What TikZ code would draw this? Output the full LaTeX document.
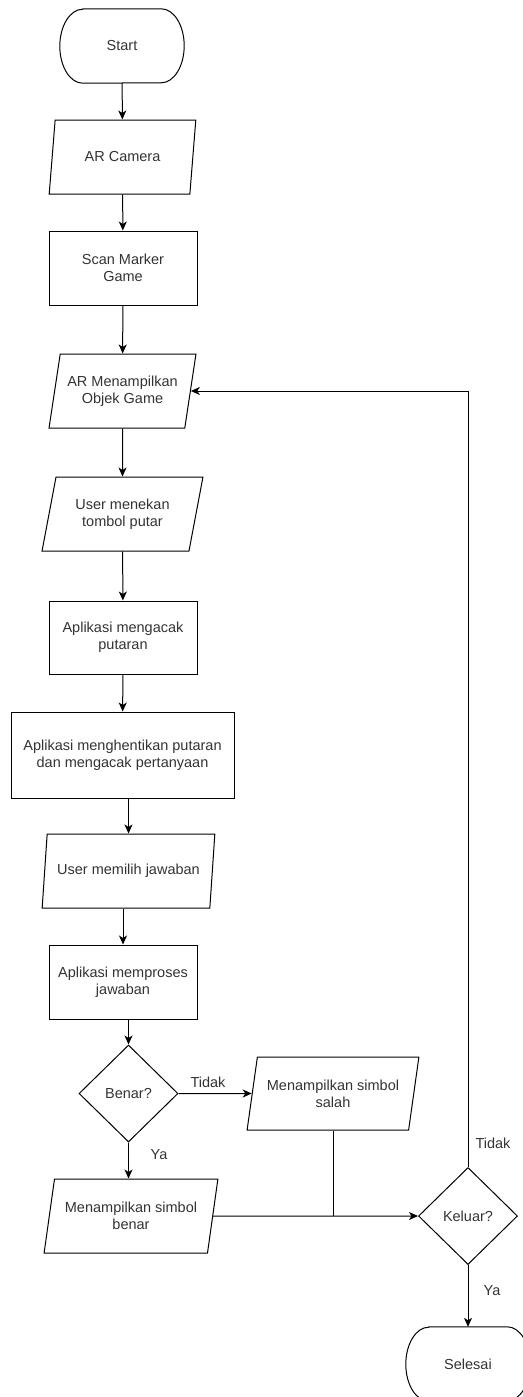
\documentclass[tikz,border=0pt]{standalone}
\usepackage{fontspec}
\setmainfont{Liberation Sans}
\usetikzlibrary{shapes,arrows.meta}
\tikzstyle{txt}=[font=\fontsize{14.5}{17}\selectfont,text=black!80,align=center,inner sep=0pt]
\tikzstyle{proc}=[txt,rectangle,draw=black,line width=1pt,minimum width=148pt,minimum height=74pt]
\tikzstyle{io}=[txt,trapezium,trapezium left angle=72,trapezium right angle=108,trapezium stretches=true,draw=black,line width=1pt,minimum height=74pt]
\tikzstyle{dec}=[txt,diamond,draw=black,line width=1pt,minimum width=99pt,minimum height=97pt]
\tikzstyle{term}=[txt,rectangle,minimum width=124pt,minimum height=74pt]
\tikzstyle{arr}=[line width=1pt,-{Stealth[length=9pt,width=8pt,inset=2.5pt]}]
\tikzstyle{ln}=[line width=1pt]

\begin{document}
\begin{tikzpicture}[x=1pt,y=-1pt]
\useasboundingbox (0,0) rectangle (522,1397);
\node[term] (start) at (122,46) {Start};
\node[io,minimum width=147pt] (camera) at (122.5,157) {AR Camera};
\node[proc] (scan) at (123,268) {Scan Marker\\Game};
\node[io,minimum width=147pt] (objek) at (122.5,391) {AR Menampilkan\\Objek Game};
\node[io,minimum width=161pt] (tekan) at (122.5,514) {User menekan\\tombol putar};
\node[proc,minimum height=73pt] (acak) at (123,637.5) {Aplikasi mengacak\\putaran};
\node[proc,minimum width=223pt,minimum height=86pt] (henti) at (122.5,755) {Aplikasi menghentikan putaran\\dan mengacak pertanyaan};
\node[io,minimum width=173pt] (pilih) at (128.5,871) {User memilih jawaban};
\node[proc] (proses) at (123,982) {Aplikasi memproses\\jawaban};
\node[dec] (benar) at (128.5,1093.5) {Benar?};
\node[io,minimum width=172pt,minimum height=73pt] (salah) at (333,1093.5) {Menampilkan simbol\\salah};
\node[io,minimum width=174pt] (simbenar) at (131,1216) {Menampilkan simbol\\benar};
\node[dec] (keluar) at (468,1216) {Keluar?};
\node[term] (selesai) at (468,1364) {Selesai};
% garis tepi terminal
\foreach \t in {start,selesai}
  \draw[ln] ([xshift=23pt]\t.north west) -- ([xshift=-23pt]\t.north east) arc[start angle=90,end angle=-90,x radius=23pt,y radius=37pt] -- ([xshift=23pt]\t.south west) arc[start angle=270,end angle=90,x radius=23pt,y radius=37pt] -- cycle;
% label
\node[txt] (tidak1) at (208,1082) {Tidak};
\node[txt] (ya1) at (159,1155) {Ya};
\node[txt] (tidak2) at (493,1143) {Tidak};
\node[txt] (ya2) at (492,1291) {Ya};
% panah
\draw[arr] (start) -- (camera);
\draw[arr] (camera) -- (scan);
\draw[arr] (scan) -- (objek);
\draw[arr] (objek) -- (tekan);
\draw[arr] (tekan) -- (acak);
\draw[arr] (acak) -- (henti);
\draw[arr] (pilih.north |- henti.south) -- (pilih.north);
\draw[arr] (proses.north |- pilih.south) -- (proses.north);
\draw[arr] (benar.north |- proses.south) -- (benar.north);
\draw[arr] (benar.east) -- (salah.west);
\draw[arr] (benar.south) -- (benar.south |- simbenar.north);
\draw[arr] (simbenar.east) -- (keluar.west);
\draw[ln] (salah.south) -- (salah.south |- keluar.west);
\draw[arr] (keluar.north) -- (keluar.north |- objek.east) -- (objek.east);
\draw[arr] (keluar.south) -- (selesai.north);
\end{tikzpicture}
\end{document}
